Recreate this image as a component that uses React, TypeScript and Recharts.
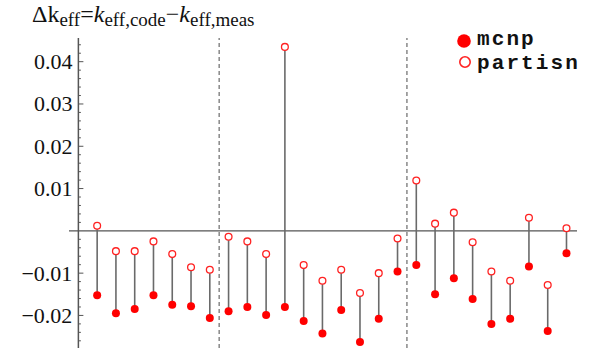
import React from 'react';
import { ComposedChart, Scatter, XAxis, YAxis, ReferenceLine } from 'recharts';

// case index (1..26)
const cases = [1, 2, 3, 4, 5, 6, 7, 8, 9, 10, 11, 12, 13, 14, 15, 16, 17, 18, 19, 20, 21, 22, 23, 24, 25, 26];

const mcnp = [
  -0.0152, -0.0195, -0.0185, -0.0152, -0.0175, -0.0178, -0.0206, -0.019, -0.018, -0.0199, -0.018,
  -0.0213, -0.0243, -0.0187, -0.0263, -0.0208, -0.0096, -0.0081, -0.015, -0.0112, -0.0161,
  -0.022, -0.0208, -0.0084, -0.0237, -0.0053,
];

const partisn = [
  0.0012, -0.0048, -0.0048, -0.0025, -0.0055, -0.0086, -0.0092, -0.0014, -0.0025, -0.0055, 0.0435,
  -0.0081, -0.0118, -0.0092, -0.0147, -0.01, -0.0018, 0.0119, 0.0017, 0.0043, -0.0027,
  -0.0096, -0.0118, 0.0031, -0.0128, 0.0006,
];

const groupDividers = [7.5, 17.5];

const majorTicks = [-0.02, -0.01, 0.01, 0.02, 0.03, 0.04];
const minorTicks = [
  -0.026, -0.024, -0.022, -0.02, -0.018, -0.016, -0.014, -0.012, -0.01, -0.008, -0.006, -0.004, -0.002,
  0, 0.002, 0.004, 0.006, 0.008, 0.01, 0.012, 0.014, 0.016, 0.018, 0.02, 0.022, 0.024, 0.026, 0.028,
  0.03, 0.032, 0.034, 0.036, 0.038, 0.04, 0.042, 0.044,
];

const mcnpData = cases.map((c, i) => ({ x: c, y: mcnp[i] }));
const partisnData = cases.map((c, i) => ({ x: c, y: partisn[i] }));

const W = 590;
const H = 348;
const LEFT = 69;
const RIGHT = 13;
const TOP = 38;
const X_MIN = -0.5;
const X_MAX = 26.56;
// pixel position of x = 0 (where the y axis sits)
const AXIS_X = LEFT + ((0 - X_MIN) / (X_MAX - X_MIN)) * (W - LEFT - RIGHT);

const serif = '"Liberation Serif", "DejaVu Serif", serif';
const mono = '"Liberation Mono", "DejaVu Sans Mono", monospace';

const YTick = (props: any) => {
  const { y, payload } = props;
  const v = Number(payload.value);
  const isMajor = majorTicks.some((m) => Math.abs(m - v) < 1e-9);
  if (Math.abs(v) < 1e-9) return <g />;
  return (
    <g>
      <line x1={AXIS_X} x2={AXIS_X + (isMajor ? 5 : 2.5)} y1={y} y2={y} stroke="#555" strokeWidth={1} />
      {isMajor && (
        <text
          x={AXIS_X - 6}
          y={y}
          textAnchor="end"
          dominantBaseline="central"
          fontFamily={serif}
          fontSize={22}
          fill="#111"
        >
          {v < 0 ? '\u2212' + Math.abs(v).toFixed(2) : v.toFixed(2)}
        </text>
      )}
    </g>
  );
};

const FilledDot = (props: any) => {
  const { cx, cy } = props;
  return <circle cx={cx} cy={cy} r={4} fill="#ff0000" />;
};

const OpenDot = (props: any) => {
  const { cx, cy } = props;
  return <circle cx={cx} cy={cy} r={3.4} fill="#fff" stroke="#f22" strokeWidth={1.3} />;
};

export default function App() {
  return (
    <div style={{ position: 'absolute', left: 0, top: 0, width: W, height: H, background: '#fff' }}>
      <ComposedChart
        width={W}
        height={H}
        margin={{ top: TOP, right: RIGHT, left: 0, bottom: 0 }}
        style={{ position: 'absolute', left: 0, top: 0 }}
      >
        <XAxis type="number" dataKey="x" domain={[X_MIN, X_MAX]} hide allowDataOverflow />
        <YAxis
          type="number"
          dataKey="y"
          domain={[-0.0277, 0.0456]}
          ticks={minorTicks}
          tick={<YTick />}
          tickLine={false}
          axisLine={false}
          width={LEFT}
          allowDataOverflow
          interval={0}
        />
        <ReferenceLine y={0} stroke="#555" strokeWidth={1.3} />
        <ReferenceLine x={0} stroke="#555" strokeWidth={1.5} />
        {groupDividers.map((d) => (
          <ReferenceLine key={d} x={d} stroke="#888" strokeWidth={1.5} strokeDasharray="4 3" />
        ))}
        {cases.map((c, i) => (
          <ReferenceLine
            key={'stem' + c}
            segment={[
              { x: c, y: mcnp[i] },
              { x: c, y: partisn[i] },
            ]}
            stroke="#6a6a6a"
            strokeWidth={1.6}
          />
        ))}
        <Scatter name="partisn" data={partisnData} shape={<OpenDot />} isAnimationActive={false} />
        <Scatter name="mcnp" data={mcnpData} shape={<FilledDot />} isAnimationActive={false} />
      </ComposedChart>
      <svg width={W} height={TOP} style={{ position: 'absolute', left: 0, top: 0, overflow: 'visible' }}>
        <text x={32} y={22} fontFamily={serif} fontSize={24} fill="#111">
          Δk
          <tspan fontSize={19} dy={4}>eff</tspan>
          <tspan dy={-4}>=</tspan>
          <tspan fontStyle="italic">k</tspan>
          <tspan fontSize={19} dy={4}>eff,code</tspan>
          <tspan dy={-4}>−</tspan>
          <tspan fontStyle="italic">k</tspan>
          <tspan fontSize={19} dy={4}>eff,meas</tspan>
        </text>
        <circle cx={464} cy={41} r={6.8} fill="#ff0000" />
        <circle cx={465} cy={62} r={5.2} fill="#fff" stroke="#f22" strokeWidth={1.6} />
        <text x={477} y={45} fontFamily={mono} fontWeight="bold" fontSize={21} letterSpacing={2.1} fill="#111">
          mcnp
        </text>
        <text x={477} y={69} fontFamily={mono} fontWeight="bold" fontSize={21} letterSpacing={2.1} fill="#111">
          partisn
        </text>
      </svg>
    </div>
  );
}
